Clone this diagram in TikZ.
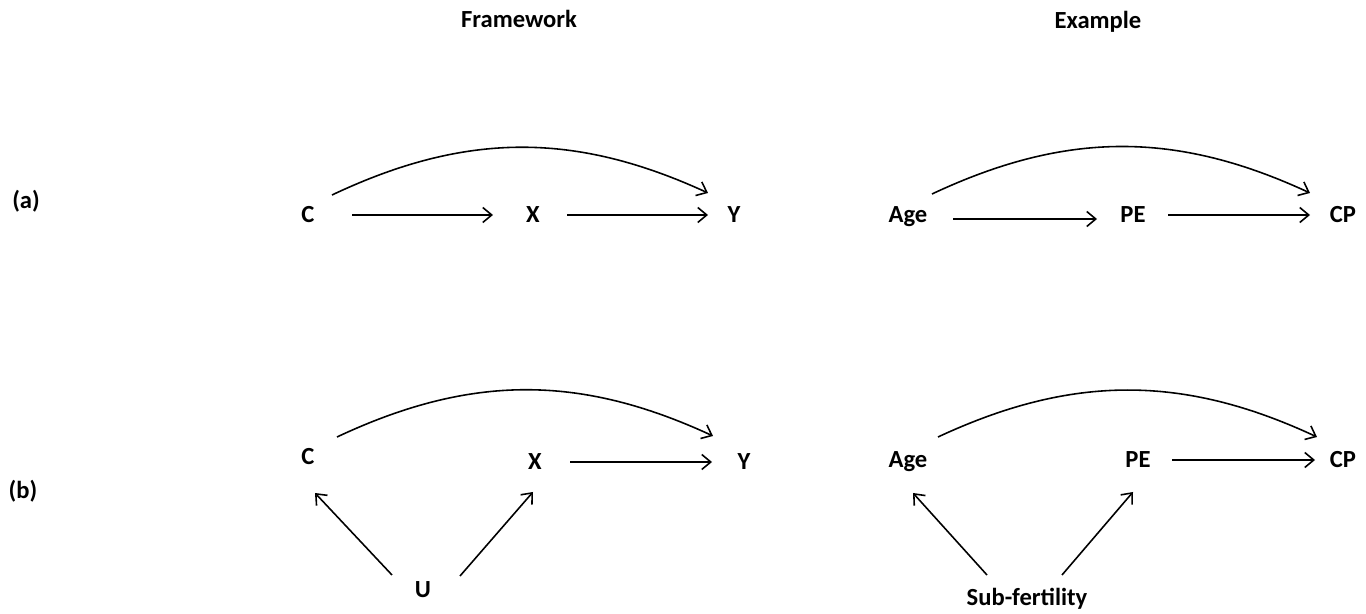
\documentclass[tikz,border=0pt]{standalone}
\usepackage{fontspec}
\setmainfont{Carlito}
\usepackage{tikz}
\usetikzlibrary{arrows.meta}

\begin{document}
\begin{tikzpicture}[
  var/.style={inner sep=0pt, text height=8.8pt, text depth=0pt,
    font=\bfseries\fontsize{14}{17}\selectfont},
  arr/.style={-{Straight Barb[length=1.8mm, width=3mm]}, line width=0.9pt},
  curv/.style={arr, bend left=25}
]
\useasboundingbox (0,0) rectangle (27.32,-12.28);

% Headers and row labels
\node[var] (frame) at (10.38,-0.40) {Framework};
\node[var] (exmp) at (21.96,-0.42) {Example};
\node[var] (laba) at (0.52,-4.02) {(a)};
\node[var] (labb) at (0.46,-9.82) {(b)};

% Row (a), framework
\node[var] (Ca) at (6.16,-4.30) {C};
\node[var] (Xa) at (10.66,-4.30) {X};
\node[var] (Ya) at (14.68,-4.30) {Y};

% Row (a), example
\node[var] (Agea) at (18.16,-4.30) {Age};
\node[var] (PEa) at (22.66,-4.30) {PE};
\node[var] (CPa) at (26.86,-4.30) {CP};

% Row (b), framework
\node[var] (Cb) at (6.16,-9.14) {C};
\node[var] (Xb) at (10.70,-9.24) {X};
\node[var] (Yb) at (14.88,-9.24) {Y};
\node[var] (U) at (8.46,-11.80) {U};

% Row (b), example
\node[var] (Ageb) at (18.16,-9.20) {Age};
\node[var] (PEb) at (22.76,-9.20) {PE};
\node[var] (CPb) at (26.86,-9.20) {CP};
\node[var] (subf) at (20.54,-11.96) {Sub-fertility};

% Arrows (a)
\draw[arr] ([xshift=0.88cm]Ca.center) -- ([xshift=-0.80cm]Xa.center);
\draw[arr] ([xshift=0.68cm]Xa.center) -- ([xshift=-0.52cm]Ya.center);
\draw[curv] ([shift={(0.48,0.40)}]Ca.center) to ([shift={(-0.52,0.44)}]Ya.center);

\draw[arr] ([shift={(0.90,-0.08)}]Agea.center) -- ([shift={(-0.72,-0.08)}]PEa.center);
\draw[arr] ([xshift=0.70cm]PEa.center) -- ([xshift=-0.66cm]CPa.center);
\draw[curv] ([shift={(0.48,0.42)}]Agea.center) to ([shift={(-0.66,0.44)}]CPa.center);

% Arrows (b)
\draw[arr] ([xshift=0.70cm]Xb.center) -- ([xshift=-0.64cm]Yb.center);
\draw[curv] ([shift={(0.58,0.40)}]Cb.center) to ([shift={(-0.62,0.52)}]Yb.center);
\draw[arr] ([shift={(-0.62,0.30)}]U.center) -- ([shift={(0.14,-0.72)}]Cb.center);
\draw[arr] ([shift={(0.74,0.28)}]U.center) -- ([shift={(-0.04,-0.60)}]Xb.center);

\draw[arr] ([xshift=0.68cm]PEb.center) -- ([xshift=-0.56cm]CPb.center);
\draw[curv] ([shift={(0.60,0.46)}]Ageb.center) to ([shift={(-0.52,0.46)}]CPb.center);
\draw[arr] ([shift={(-0.80,0.46)}]subf.center) -- ([shift={(0.10,-0.66)}]Ageb.center);
\draw[arr] ([shift={(0.70,0.46)}]subf.center) -- ([shift={(-0.10,-0.64)}]PEb.center);

\end{tikzpicture}
\end{document}
